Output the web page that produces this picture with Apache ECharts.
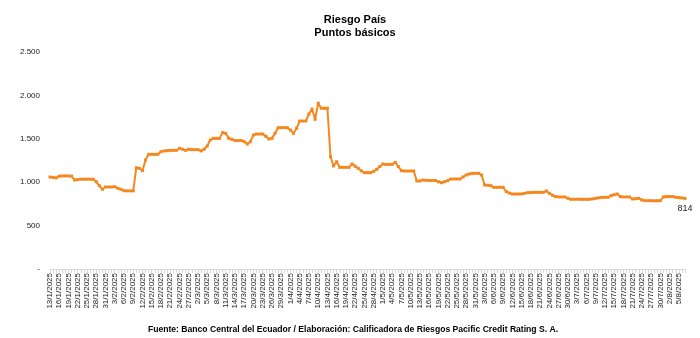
<!DOCTYPE html>
<html>
<head>
<meta charset="utf-8">
<script src="https://cdn.jsdelivr.net/npm/echarts@6/dist/echarts.min.js"></script>
<style>
html,body{margin:0;padding:0;background:#fff;}
#chart{width:700px;height:338px;}
</style>
</head>
<body>
<div id="chart"></div>
<script>
// Daily categories from 13/1/2025 to 7/8/2025
var startDate = [2025, 0, 13];
var dayCount = 207;
var categories = [];
for (var i = 0; i < dayCount; i++) {
  var d = new Date(startDate[0], startDate[1], startDate[2] + i);
  categories.push(d.getDate() + '/' + (d.getMonth() + 1) + '/' + d.getFullYear());
}

// Riesgo País (puntos básicos), one value per calendar day
var riesgoPais = [
  1060,1055,1050,1070,1072,1072,1072,
  1070,1025,1030,1035,1035,1035,1035,
  1035,1005,960,918,945,945,945,
  948,930,918,902,900,900,900,
  1167,1160,1133,1256,1321,1321,1321,
  1321,1352,1360,1363,1367,1367,1367,
  1390,1380,1367,1379,1375,1375,1375,
  1360,1380,1417,1486,1505,1505,1505,
  1571,1563,1505,1495,1480,1480,1480,
  1467,1440,1467,1544,1555,1555,1555,
  1530,1498,1505,1563,1628,1628,1628,
  1628,1601,1563,1621,1705,1705,1705,
  1786,1843,1725,1910,1852,1852,1852,
  1294,1187,1236,1171,1171,1171,1171,
  1210,1185,1160,1130,1110,1110,1110,
  1125,1148,1180,1210,1205,1205,1205,
  1229,1180,1133,1129,1129,1129,1129,
  1014,1014,1025,1022,1020,1020,1020,
  1005,995,1005,1018,1037,1037,1037,
  1037,1060,1083,1095,1102,1102,1102,
  1083,968,965,960,941,941,941,
  941,893,875,864,864,864,864,
  872,880,880,883,883,883,883,
  899,872,850,834,830,830,830,
  815,803,803,805,803,803,803,
  803,808,814,820,826,826,826,
  845,855,864,834,830,830,830,
  806,810,814,795,787,787,787,
  785,787,787,830,834,834,834,
  826,822,818,814
];

var yTicks = [0, 500, 1000, 1500, 2000, 2500];

var lastIndex = riesgoPais.length - 1;

var chart = echarts.init(document.getElementById('chart'), null, {renderer: 'canvas'});
chart.setOption({
  animation: false,
  backgroundColor: '#ffffff',
  textStyle: {fontFamily: 'Liberation Sans, Arial, sans-serif'},
  title: [{
    text: 'Riesgo País\nPuntos básicos',
    left: 350,
    textAlign: 'center',
    top: 8,
    textStyle: {fontSize: 11, fontWeight: 'bold', color: '#000',
      fontFamily: 'Liberation Sans Narrow, Liberation Sans, Arial, sans-serif', lineHeight: 13}
  }, {
    text: '{b|Fuente: }{n|Banco Central del Ecuador / }{b|Elaboración: }{n|Calificadora de Riesgos Pacific Credit Rating S. A.}',
    left: 348,
    textAlign: 'center',
    top: 320,
    textStyle: {
      rich: {
        b: {fontSize: 8.6, fontWeight: 'bold', color: '#000', fontFamily: 'Liberation Sans, Arial, sans-serif'},
        n: {fontSize: 8.6, color: '#000', fontFamily: 'Liberation Sans, Arial, sans-serif'}
      }
    }
  }],
  grid: {left: 50, right: 15, top: 52, bottom: 69, containLabel: false},
  xAxis: {
    type: 'category',
    data: categories,
    boundaryGap: false,
    axisLine: {show: true, lineStyle: {color: '#d9d9d9', width: 1}},
    axisTick: {show: true, interval: 0, length: 4, lineStyle: {color: '#d9d9d9'}},
    axisLabel: {interval: 2, rotate: 90, fontSize: 8, color: '#222', margin: 4,
      fontFamily: 'Liberation Sans, Arial, sans-serif'},
    splitLine: {show: false}
  },
  yAxis: {
    type: 'value',
    min: yTicks[0],
    max: yTicks[yTicks.length - 1],
    interval: 500,
    axisLine: {show: false},
    axisTick: {show: false},
    splitLine: {show: false},
    axisLabel: {
      fontSize: 8, color: '#222', margin: 10,
      formatter: function (v) {
        if (v === 0) return '-';
        return String(v).replace(/\B(?=(\d{3})+(?!\d))/g, '.');
      }
    }
  },
  series: [{
    type: 'line',
    data: riesgoPais,
    showSymbol: true,
    showAllSymbol: true,
    symbol: 'rect',
    symbolSize: 3,
    clip: false,
    lineStyle: {color: '#f5871f', width: 2},
    itemStyle: {color: '#f5871f'},
    label: {
      show: true,
      position: 'bottom',
      distance: 4,
      fontSize: 9,
      color: '#1a1a1a',
      fontFamily: 'Liberation Sans, Arial, sans-serif',
      formatter: function (p) { return p.dataIndex === lastIndex ? String(p.value) : ''; }
    },
    labelLayout: {hideOverlap: false},
    emphasis: {disabled: true}
  }]
});
</script>
</body>
</html>
